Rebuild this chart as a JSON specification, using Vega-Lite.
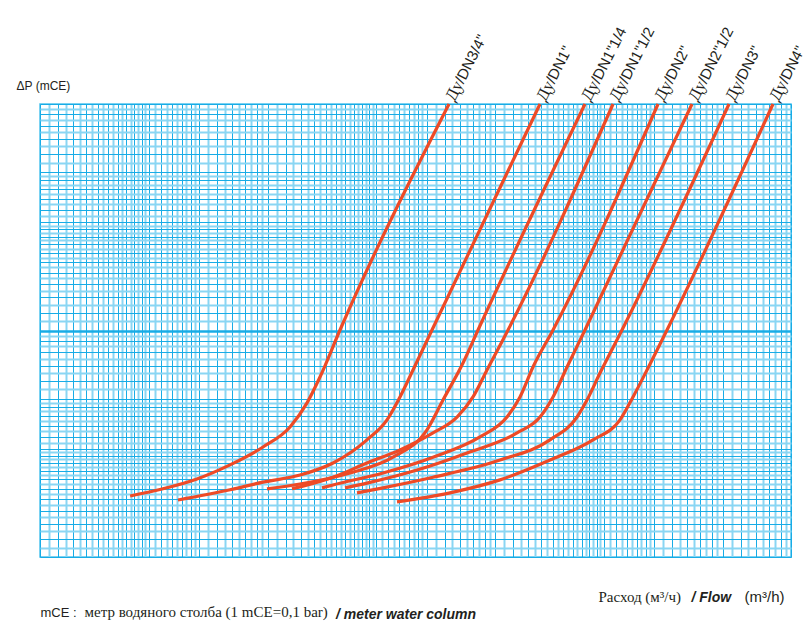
{
  "$schema": "https://vega.github.io/schema/vega-lite/v6.json",
  "width": 751,
  "height": 453,
  "autosize": {"type": "none"},
  "padding": {"left": 40, "top": 104, "right": 21, "bottom": 72},
  "background": "white",
  "config": {
    "view": {"stroke": "#4FC3EE", "strokeWidth": 1.5},
    "axis": {"labels": false, "ticks": false, "domain": false, "titleColor": "#231F20", "titleFontWeight": "normal", "titleAlign": "left", "titleBaseline": "alphabetic", "titleAngle": 0, "titlePadding": 0}
  },
  "title": {
    "text": "/ meter water column",
    "orient": "bottom",
    "anchor": "start",
    "frame": "group",
    "font": "Liberation Sans",
    "fontSize": 14,
    "fontStyle": "italic",
    "fontWeight": "bold",
    "color": "#231F20",
    "dx": 296,
    "dy": -11,
    "offset": 0
  },
  "data": {
    "values": [
      {"dn": "DN3/4", "q": 0.249, "dp": 0.186},
      {"dn": "DN3/4", "q": 0.347, "dp": 0.2},
      {"dn": "DN3/4", "q": 0.49, "dp": 0.221},
      {"dn": "DN3/4", "q": 0.684, "dp": 0.255},
      {"dn": "DN3/4", "q": 0.956, "dp": 0.306},
      {"dn": "DN3/4", "q": 1.256, "dp": 0.375},
      {"dn": "DN3/4", "q": 1.492, "dp": 0.479},
      {"dn": "DN3/4", "q": 1.701, "dp": 0.623},
      {"dn": "DN3/4", "q": 2.083, "dp": 1.005},
      {"dn": "DN3/4", "q": 6.279, "dp": 10, "lab": "/DN3/4\""},
      {"dn": "DN1", "q": 0.404, "dp": 0.1785},
      {"dn": "DN1", "q": 0.684, "dp": 0.198},
      {"dn": "DN1", "q": 0.956, "dp": 0.214},
      {"dn": "DN1", "q": 1.39, "dp": 0.23},
      {"dn": "DN1", "q": 1.941, "dp": 0.26},
      {"dn": "DN1", "q": 2.737, "dp": 0.329},
      {"dn": "DN1", "q": 3.352, "dp": 0.403},
      {"dn": "DN1", "q": 3.823, "dp": 0.509},
      {"dn": "DN1", "q": 4.361, "dp": 0.669},
      {"dn": "DN1", "q": 5.285, "dp": 1.005},
      {"dn": "DN1", "q": 15.77, "dp": 10, "lab": "/DN1\""},
      {"dn": "DN1 1/4", "q": 0.995, "dp": 0.2},
      {"dn": "DN1 1/4", "q": 1.39, "dp": 0.21},
      {"dn": "DN1 1/4", "q": 2.305, "dp": 0.235},
      {"dn": "DN1 1/4", "q": 3.562, "dp": 0.276},
      {"dn": "DN1 1/4", "q": 5.024, "dp": 0.364},
      {"dn": "DN1 1/4", "q": 5.907, "dp": 0.493},
      {"dn": "DN1 1/4", "q": 7.233, "dp": 0.719},
      {"dn": "DN1 1/4", "q": 8.42, "dp": 1.005},
      {"dn": "DN1 1/4", "q": 24.86, "dp": 10, "lab": "/DN1\"1/4"},
      {"dn": "DN1 1/2", "q": 1.281, "dp": 0.2},
      {"dn": "DN1 1/2", "q": 1.39, "dp": 0.204},
      {"dn": "DN1 1/2", "q": 1.941, "dp": 0.225},
      {"dn": "DN1 1/2", "q": 2.737, "dp": 0.26},
      {"dn": "DN1 1/2", "q": 3.823, "dp": 0.297},
      {"dn": "DN1 1/2", "q": 5.339, "dp": 0.353},
      {"dn": "DN1 1/2", "q": 6.808, "dp": 0.415},
      {"dn": "DN1 1/2", "q": 8.005, "dp": 0.509},
      {"dn": "DN1 1/2", "q": 9.222, "dp": 0.669},
      {"dn": "DN1 1/2", "q": 11.41, "dp": 1.005},
      {"dn": "DN1 1/2", "q": 33.02, "dp": 10, "lab": "/DN1\"1/2"},
      {"dn": "DN2", "q": 1.736, "dp": 0.202},
      {"dn": "DN2", "q": 1.941, "dp": 0.208},
      {"dn": "DN2", "q": 3.219, "dp": 0.235},
      {"dn": "DN2", "q": 5.339, "dp": 0.276},
      {"dn": "DN2", "q": 8.592, "dp": 0.339},
      {"dn": "DN2", "q": 11.29, "dp": 0.415},
      {"dn": "DN2", "q": 12.88, "dp": 0.509},
      {"dn": "DN2", "q": 14.69, "dp": 0.69},
      {"dn": "DN2", "q": 17.99, "dp": 1.005},
      {"dn": "DN2", "q": 52.06, "dp": 10, "lab": "/DN2\""},
      {"dn": "DN2 1/2", "q": 2.191, "dp": 0.202},
      {"dn": "DN2 1/2", "q": 2.737, "dp": 0.212},
      {"dn": "DN2 1/2", "q": 4.542, "dp": 0.242},
      {"dn": "DN2 1/2", "q": 7.533, "dp": 0.288},
      {"dn": "DN2 1/2", "q": 12.5, "dp": 0.353},
      {"dn": "DN2 1/2", "q": 15.77, "dp": 0.415},
      {"dn": "DN2 1/2", "q": 17.99, "dp": 0.509},
      {"dn": "DN2 1/2", "q": 20.73, "dp": 0.69},
      {"dn": "DN2 1/2", "q": 24.86, "dp": 1.005},
      {"dn": "DN2 1/2", "q": 73.45, "dp": 10, "lab": "/DN2\"1/2"},
      {"dn": "DN3", "q": 2.474, "dp": 0.192},
      {"dn": "DN3", "q": 3.219, "dp": 0.202},
      {"dn": "DN3", "q": 5.339, "dp": 0.225},
      {"dn": "DN3", "q": 10.52, "dp": 0.268},
      {"dn": "DN3", "q": 17.45, "dp": 0.329},
      {"dn": "DN3", "q": 22.94, "dp": 0.415},
      {"dn": "DN3", "q": 25.37, "dp": 0.493},
      {"dn": "DN3", "q": 28.94, "dp": 0.649},
      {"dn": "DN3", "q": 36.16, "dp": 1.005},
      {"dn": "DN3", "q": 106.8, "dp": 10, "lab": "/DN3\""},
      {"dn": "DN4", "q": 3.709, "dp": 0.175},
      {"dn": "DN4", "q": 6.343, "dp": 0.192},
      {"dn": "DN4", "q": 10.52, "dp": 0.219},
      {"dn": "DN4", "q": 17.45, "dp": 0.268},
      {"dn": "DN4", "q": 26.97, "dp": 0.329},
      {"dn": "DN4", "q": 35.44, "dp": 0.403},
      {"dn": "DN4", "q": 40.43, "dp": 0.509},
      {"dn": "DN4", "q": 46.57, "dp": 0.669},
      {"dn": "DN4", "q": 57.02, "dp": 1.005},
      {"dn": "DN4", "q": 166.7, "dp": 10, "lab": "/DN4\""}
    ]
  },
  "layer": [
    {
      "mark": {"type": "line", "color": "#EE4A26", "strokeWidth": 3.2, "interpolate": "monotone", "strokeCap": "butt"},
      "encoding": {
        "x": {
          "field": "q", "type": "quantitative",
          "scale": {"type": "log", "domain": [0.1, 200], "nice": false, "zero": false},
          "axis": {
            "orient": "bottom",
            "values": [0.1,0.12,0.14,0.16,0.18,0.2,0.22,0.24,0.26,0.28,0.3,0.34,0.38,0.42,0.46,0.5,0.6,0.7,0.8,0.9,1,1.2,1.4,1.6,1.8,2,2.2,2.4,2.6,2.8,3,3.4,3.8,4.2,4.6,5,6,7,8,9,10,12,14,16,18,20,22,24,26,28,30,34,38,42,46,50,60,70,80,90,100,120,140,160,180,200],
            "grid": true, "gridColor": "#18ACE6", "gridWidth": 1,
            "title": "Расход (м³/ч)", "titleFont": "Liberation Serif", "titleFontSize": 15,
            "titleX": 558, "titleY": 44
          }
        },
        "y": {
          "field": "dp", "type": "quantitative",
          "scale": {"type": "log", "domain": [0.1, 10], "nice": false, "zero": false},
          "axis": {
            "orient": "left",
            "values": [0.1,0.12,0.14,0.16,0.18,0.2,0.22,0.24,0.26,0.28,0.3,0.34,0.38,0.42,0.46,0.5,0.6,0.7,0.8,0.9,1,1.2,1.4,1.6,1.8,2,2.2,2.4,2.6,2.8,3,3.4,3.8,4.2,4.6,5,6,7,8,9,10],
            "grid": true, "gridColor": "#18ACE6", "gridWidth": 1,
            "title": "ΔP (mCE)", "titleFont": "Liberation Sans", "titleFontSize": 12,
            "titleX": -24, "titleY": -15
          }
        },
        "detail": {"field": "dn"}
      }
    },
    {
      "transform": [{"filter": "datum.dp >= 10"}],
      "mark": {"type": "text", "text": "Ду", "font": "Liberation Serif", "fontSize": 17, "angle": -63, "align": "left", "baseline": "middle", "dx": 4, "dy": -1, "color": "#231F20"},
      "encoding": {
        "x": {
          "field": "q", "type": "quantitative",
          "scale": {"type": "log", "domain": [0.1, 200], "nice": false, "zero": false},
          "axis": {
            "orient": "top",
            "values": [0.11,0.13,0.15,0.17,0.19,0.21,0.23,0.25,0.27,0.29,0.32,0.36,0.4,0.44,0.48,0.55,0.65,0.75,0.85,0.95,1.1,1.3,1.5,1.7,1.9,2.1,2.3,2.5,2.7,2.9,3.2,3.6,4,4.4,4.8,5.5,6.5,7.5,8.5,9.5,11,13,15,17,19,21,23,25,27,29,32,36,40,44,48,55,65,75,85,95,110,130,150,170,190],
            "grid": true, "gridColor": "#8AD6F3", "gridWidth": 2,
            "title": "/ Flow", "titleFont": "Liberation Sans", "titleFontSize": 14, "titleFontStyle": "italic", "titleFontWeight": "bold",
            "titleX": 651, "titleY": 497
          }
        },
        "y": {
          "field": "dp", "type": "quantitative",
          "scale": {"type": "log", "domain": [0.1, 10], "nice": false, "zero": false},
          "axis": {
            "orient": "right",
            "values": [0.11,0.13,0.15,0.17,0.19,0.21,0.23,0.25,0.27,0.29,0.32,0.36,0.4,0.44,0.48,0.55,0.65,0.75,0.85,0.95,1.1,1.3,1.5,1.7,1.9,2.1,2.3,2.5,2.7,2.9,3.2,3.6,4,4.4,4.8,5.5,6.5,7.5,8.5,9.5],
            "grid": true, "gridColor": "#8AD6F3", "gridWidth": 2,
            "title": "mCE :", "titleFont": "Liberation Sans", "titleFontSize": 13,
            "titleX": -751, "titleY": 512
          }
        }
      }
    },
    {
      "transform": [{"filter": "datum.dp >= 10"}],
      "mark": {"type": "text", "font": "Liberation Sans", "fontSize": 15, "angle": -63, "align": "left", "baseline": "middle", "dx": 24, "dy": -1, "color": "#231F20"},
      "encoding": {
        "text": {"field": "lab"},
        "x": {
          "field": "q", "type": "quantitative",
          "scale": {"type": "log", "domain": [0.1, 200], "nice": false, "zero": false},
          "axis": {
            "orient": "bottom", "grid": false, "values": [1],
            "title": "(m³/h)", "titleFont": "Liberation Sans", "titleFontSize": 15,
            "titleX": 704, "titleY": 44
          }
        },
        "y": {
          "field": "dp", "type": "quantitative",
          "scale": {"type": "log", "domain": [0.1, 10], "nice": false, "zero": false},
          "axis": {
            "orient": "left", "values": [1], "grid": true, "gridColor": "#18ACE6", "gridWidth": 2.5,
            "title": "метр водяного столба (1 mCE=0,1 bar)", "titleFont": "Liberation Serif", "titleFontSize": 15,
            "titleX": 44, "titleY": 512
          }
        }
      }
    }
  ],
  "resolve": {"axis": {"x": "independent", "y": "independent"}}
}
